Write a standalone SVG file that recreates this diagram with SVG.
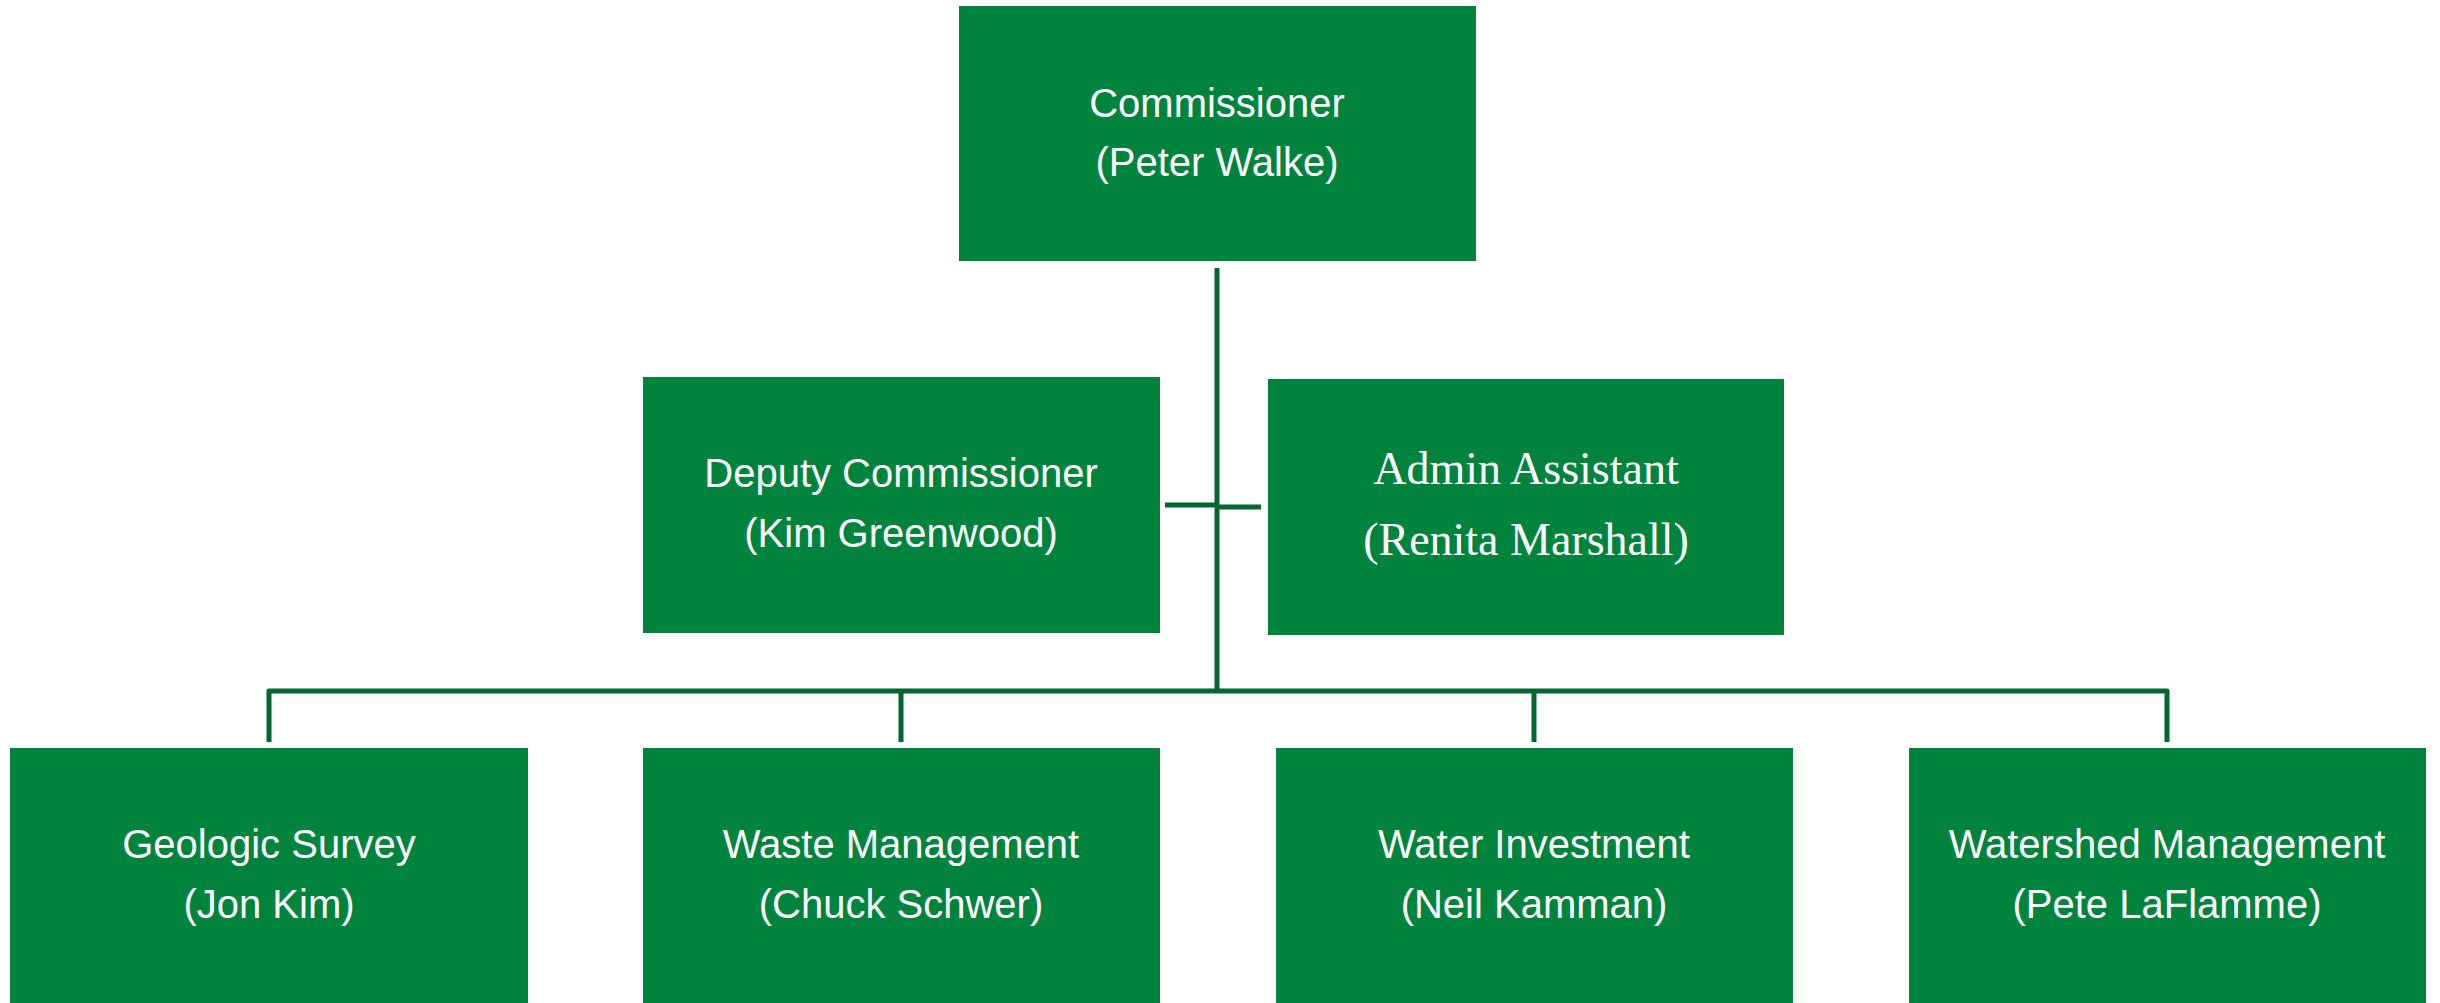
<svg xmlns="http://www.w3.org/2000/svg" width="2440" height="1003" viewBox="0 0 2440 1003">
<style>
.box{fill:#00843D}
.t{font-family:"Liberation Sans",Arial,sans-serif;font-size:40px;fill:#ffffff;text-anchor:middle}
.ts{font-family:"Liberation Serif","Times New Roman",serif;font-size:46px;fill:#ffffff;text-anchor:middle}
.c{stroke:#03652F;stroke-width:5;fill:none;stroke-linejoin:round}
</style>
<rect width="2440" height="1003" fill="#ffffff"/>
<g id="connectors">
<line class="c" x1="1217" y1="268" x2="1217" y2="691"/>
<line class="c" x1="1165" y1="505" x2="1217" y2="505"/>
<line class="c" x1="1219" y1="507" x2="1261" y2="507"/>
<path class="c" d="M269 742 V691 H2167 V742"/>
<line class="c" x1="901" y1="691" x2="901" y2="742"/>
<line class="c" x1="1534" y1="691" x2="1534" y2="742"/>
</g>
<g id="commissioner">
<rect class="box" x="959" y="6" width="517" height="255"/>
<text class="t" x="1217" y="117">Commissioner</text>
<text class="t" x="1217" y="176">(Peter Walke)</text>
</g>
<g id="deputy">
<rect class="box" x="643" y="377" width="517" height="256"/>
<text class="t" x="901" y="487">Deputy Commissioner</text>
<text class="t" x="901" y="547">(Kim Greenwood)</text>
</g>
<g id="admin">
<rect class="box" x="1268" y="379" width="516" height="256"/>
<text class="ts" x="1526" y="484">Admin Assistant</text>
<text class="ts" x="1526" y="555">(Renita Marshall)</text>
</g>
<g id="geologic">
<rect class="box" x="10" y="748" width="518" height="255"/>
<text class="t" x="269" y="858">Geologic Survey</text>
<text class="t" x="269" y="918">(Jon Kim)</text>
</g>
<g id="waste">
<rect class="box" x="643" y="748" width="517" height="255"/>
<text class="t" x="901" y="858">Waste Management</text>
<text class="t" x="901" y="918">(Chuck Schwer)</text>
</g>
<g id="water">
<rect class="box" x="1276" y="748" width="517" height="255"/>
<text class="t" x="1534" y="858">Water Investment</text>
<text class="t" x="1534" y="918">(Neil Kamman)</text>
</g>
<g id="watershed">
<rect class="box" x="1909" y="748" width="517" height="255"/>
<text class="t" x="2167" y="858">Watershed Management</text>
<text class="t" x="2167" y="918">(Pete LaFlamme)</text>
</g>
</svg>
